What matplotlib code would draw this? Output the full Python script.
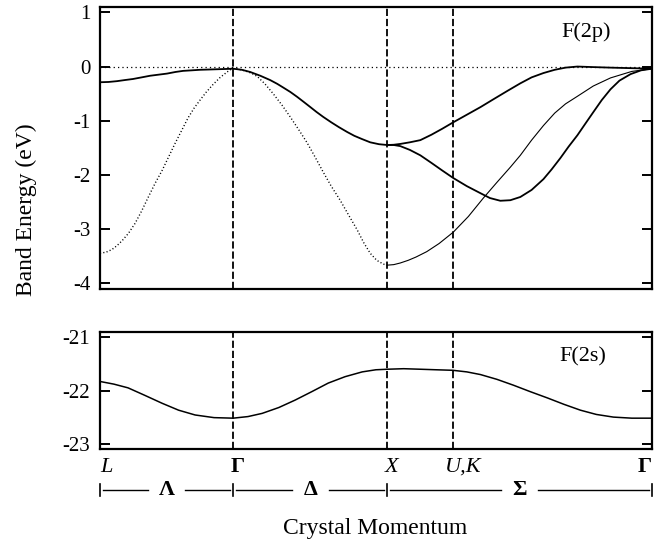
import matplotlib
matplotlib.use("Agg")
import matplotlib.pyplot as plt
import matplotlib.transforms as mtransforms

plt.rcParams['font.family'] = ['Liberation Serif', 'DejaVu Serif']

# ---- k-path (distance along path) ----
kpt_pos = [0.0, 0.864, 1.864, 2.289, 3.581]
kpt_labels = ['L', 'Γ', 'X', 'U,K', 'Γ']
dir_labels = ['Λ', 'Δ', 'Σ']

# ---- F(2p) bands ----
# L -> Gamma
lg_x_up = [0.000, 0.055, 0.110, 0.160, 0.214, 0.270, 0.325, 0.380, 0.435, 0.490, 0.539,
           0.595, 0.649, 0.705, 0.760, 0.815, 0.864]
lg_e_up = [-0.29, -0.285, -0.27, -0.25, -0.23, -0.20, -0.17, -0.15, -0.13, -0.10, -0.08,
           -0.07, -0.06, -0.055, -0.05, -0.045, -0.04]
lg_x_lo = [0.000, 0.040, 0.078, 0.110, 0.143, 0.185, 0.227, 0.270, 0.312, 0.357, 0.403,
           0.445, 0.487, 0.530, 0.571, 0.610, 0.649, 0.690, 0.734, 0.780, 0.825, 0.845, 0.864]
lg_e_lo = [-3.45, -3.43, -3.38, -3.31, -3.22, -3.08, -2.90, -2.67, -2.42, -2.16, -1.92,
           -1.67, -1.42, -1.18, -0.95, -0.77, -0.62, -0.47, -0.33, -0.20, -0.10, -0.06, -0.04]
# Gamma -> X
gx_x_up = [0.864, 0.920, 0.974, 1.040, 1.104, 1.150, 1.190, 1.235, 1.279, 1.320, 1.365,
           1.405, 1.448, 1.500, 1.550, 1.604, 1.650, 1.700, 1.753, 1.810, 1.864]
gx_e_up = [-0.04, -0.06, -0.10, -0.17, -0.25, -0.32, -0.39, -0.47, -0.56, -0.65, -0.75,
           -0.84, -0.93, -1.03, -1.12, -1.21, -1.28, -1.34, -1.40, -1.435, -1.45]
gx_x_lo = [0.864, 0.900, 0.942, 0.980, 1.019, 1.070, 1.123, 1.180, 1.234, 1.290, 1.344,
           1.395, 1.448, 1.500, 1.558, 1.610, 1.669, 1.710, 1.753, 1.795, 1.838, 1.864]
gx_e_lo = [-0.04, -0.05, -0.08, -0.12, -0.18, -0.32, -0.50, -0.71, -0.93, -1.17, -1.41,
           -1.67, -1.95, -2.21, -2.47, -2.73, -3.02, -3.25, -3.45, -3.58, -3.65, -3.67]
# X -> U,K -> Gamma
xg_x_a = [1.864, 1.906, 1.948, 2.010, 2.078, 2.150, 2.220, 2.292, 2.380, 2.468, 2.555,
          2.643, 2.727, 2.800, 2.877, 2.950, 3.020, 3.097, 3.200, 3.312, 3.450, 3.581]
xg_e_a = [-1.45, -1.445, -1.43, -1.40, -1.36, -1.26, -1.15, -1.03, -0.89, -0.75, -0.60,
          -0.45, -0.31, -0.20, -0.12, -0.06, -0.02, 0.00, -0.01, -0.02, -0.03, -0.04]
xg_x_b = [1.864, 1.906, 1.948, 2.010, 2.078, 2.150, 2.220, 2.292, 2.380, 2.468, 2.530,
          2.597, 2.662, 2.727, 2.800, 2.877, 2.930, 2.987, 3.040, 3.097, 3.150, 3.201,
          3.255, 3.312, 3.370, 3.442, 3.510, 3.581]
xg_e_b = [-1.45, -1.45, -1.47, -1.54, -1.64, -1.78, -1.92, -2.06, -2.21, -2.34, -2.43,
          -2.48, -2.47, -2.41, -2.28, -2.08, -1.90, -1.69, -1.48, -1.27, -1.05, -0.84,
          -0.62, -0.42, -0.26, -0.14, -0.07, -0.04]
xg_x_c = [1.864, 1.906, 1.948, 2.000, 2.050, 2.120, 2.200, 2.292, 2.390, 2.487, 2.575,
          2.662, 2.727, 2.800, 2.877, 2.950, 3.020, 3.097, 3.200, 3.312, 3.450, 3.581]
xg_e_c = [-3.67, -3.66, -3.63, -3.58, -3.52, -3.42, -3.27, -3.06, -2.77, -2.43, -2.14,
          -1.86, -1.64, -1.36, -1.09, -0.86, -0.69, -0.55, -0.36, -0.21, -0.09, -0.04]

# ---- F(2s) band ----
s_x = [0.000, 0.090, 0.182, 0.290, 0.403, 0.510, 0.617, 0.740, 0.864, 0.960, 1.052, 1.160,
       1.266, 1.375, 1.481, 1.590, 1.701, 1.790, 1.864, 1.970, 2.078, 2.180, 2.289, 2.380,
       2.468, 2.575, 2.682, 2.790, 2.903, 3.010, 3.117, 3.220, 3.331, 3.450, 3.581]
s_e = [-21.83, -21.88, -21.95, -22.09, -22.24, -22.37, -22.46, -22.51, -22.52, -22.49,
       -22.43, -22.32, -22.18, -22.02, -21.86, -21.74, -21.65, -21.61, -21.60, -21.59,
       -21.60, -21.61, -21.62, -21.65, -21.70, -21.79, -21.90, -22.02, -22.14, -22.26,
       -22.37, -22.45, -22.50, -22.52, -22.52]

top_ticks = [1, 0, -1, -2, -3, -4]
bot_ticks = [-21, -22, -23]

fig = plt.figure(figsize=(6.64, 5.44), dpi=100)
ax1 = fig.add_axes([0.1506, 0.4688, 0.8313, 0.5183])
ax2 = fig.add_axes([0.1506, 0.1746, 0.8313, 0.2151])

heavy = dict(color='black', lw=1.3, solid_joinstyle='round')
thin = dict(color='black', lw=0.8, solid_joinstyle='round')
dotted = dict(color='black', lw=1.0, linestyle=(0, (0.8, 1.6)))

ax1.plot(lg_x_up, lg_e_up, **heavy)
ax1.plot(lg_x_lo, lg_e_lo, **dotted)
ax1.plot(gx_x_up, gx_e_up, **heavy)
ax1.plot(gx_x_lo, gx_e_lo, **dotted)
ax1.plot(xg_x_a, xg_e_a, **heavy)
ax1.plot(xg_x_b, xg_e_b, **heavy)
ax1.plot(xg_x_c, xg_e_c, **thin)
ax1.axhline(0, color='black', lw=0.9, linestyle=(0, (1, 2.5)))

ax2.plot(s_x, s_e, color='black', lw=1.1, solid_joinstyle='round')

for ax in (ax1, ax2):
    for xv in kpt_pos[1:4]:
        ax.axvline(xv, color='black', lw=1.3, linestyle=(0, (4, 1.6)))
    ax.set_xlim(kpt_pos[0], kpt_pos[-1])
    ax.set_xticks([])
    for s in ax.spines.values():
        s.set_linewidth(1.6)
    ax.tick_params(axis='y', direction='in', left=True, right=True, length=7, width=1.4,
                   labelsize=15, pad=7)

ax1.set_ylim(-4.11, 1.10)
ax1.set_yticks(top_ticks)
ax1.set_yticklabels([str(t) for t in top_ticks])
ax2.set_ylim(-23.10, -20.90)
ax2.set_yticks(bot_ticks)
ax2.set_yticklabels([str(t) for t in bot_ticks])

ax1.text(0.88, 0.91, 'F(2p)', transform=ax1.transAxes, ha='center', va='center', fontsize=16)
ax2.text(0.875, 0.79, 'F(2s)', transform=ax2.transAxes, ha='center', va='center', fontsize=16)

# k-point labels
trans = mtransforms.blended_transform_factory(ax2.transData, ax2.transAxes)
offs = [0.0, 0.03, 0.03, 0.07, 0.0]
has = ['left', 'center', 'center', 'center', 'right']
for xv, lab, o, ha in zip(kpt_pos, kpt_labels, offs, has):
    style = 'normal' if lab == 'Γ' else 'italic'
    ax2.text(xv + o, -0.155, lab, transform=trans, ha=ha, va='center', fontsize=16,
             style=style, fontweight='bold' if lab == 'Γ' else 'normal')

# direction row
row_y = -0.35
seg_ends = [kpt_pos[0], kpt_pos[1], kpt_pos[2], kpt_pos[4]]
gap = 0.12
small = 0.02
for i, lab in enumerate(dir_labels):
    a, b = seg_ends[i], seg_ends[i + 1]
    m = 0.5 * (a + b)
    ax2.plot([a + small, m - gap], [row_y, row_y], transform=trans, clip_on=False, color='black', lw=1.0)
    ax2.plot([m + gap, b - small], [row_y, row_y], transform=trans, clip_on=False, color='black', lw=1.0)
    ax2.text(m, row_y, lab, transform=trans, ha='center', va='center', fontsize=16, fontweight='bold')
for xv in seg_ends:
    ax2.plot([xv, xv], [row_y - 0.05, row_y + 0.05], transform=trans, clip_on=False, color='black', lw=1.2)

fig.text(0.565, 0.029, 'Crystal Momentum', ha='center', va='center', fontsize=17)
fig.text(0.040, 0.614, 'Band Energy (eV)', ha='center', va='center', rotation=90, fontsize=17)

fig.savefig('out.png', dpi=100)
